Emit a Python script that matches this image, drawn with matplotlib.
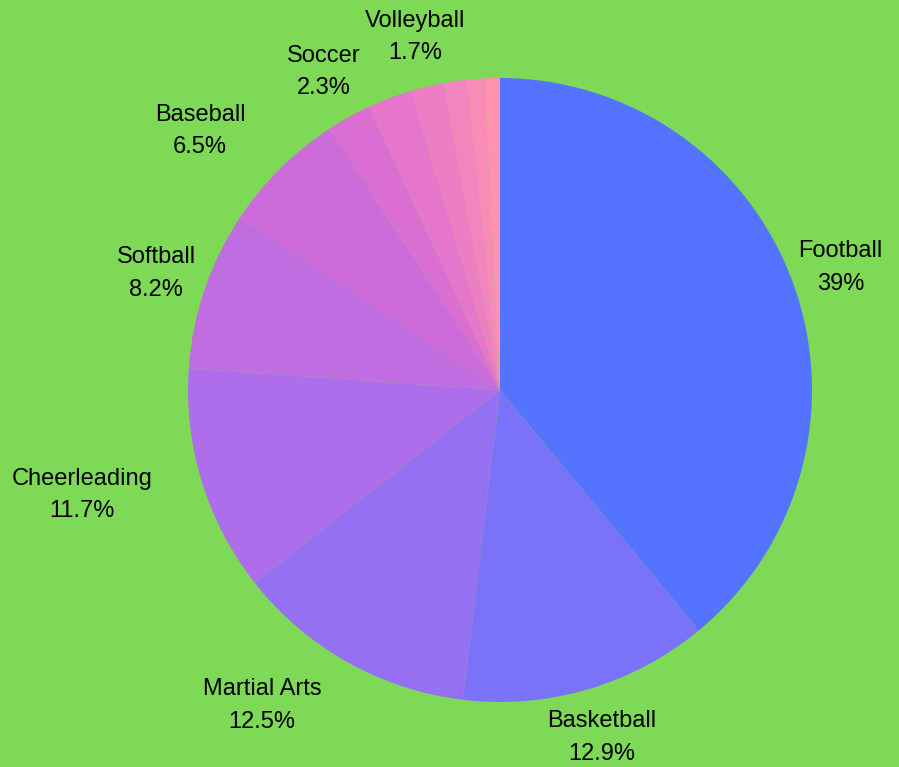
import matplotlib.pyplot as plt
import numpy as np

sports = ["Football", "Basketball", "Martial Arts", "Cheerleading", "Softball",
          "Baseball", "Soccer", "", "Volleyball", "", "", ""]
shares = [39, 12.9, 12.5, 11.7, 8.2, 6.5, 2.3, 2.3, 1.7, 1.2, 0.9, 0.8]
pct_text = ["39%", "12.9%", "12.5%", "11.7%", "8.2%", "6.5%", "2.3%", "", "1.7%", "", "", ""]
colors = ["#5474FF", "#7B72FA", "#9670F2", "#AE6EEB", "#C06DE2", "#CE6BDA",
          "#DB6ED2", "#E676CB", "#EE7EC4", "#F385BE", "#F98BB7", "#FF92AF"]

# label layout tweaks (radius factor, angle nudge in degrees)
lab_r = [1.16, 1.16, 1.266, 1.382, 1.163, 1.27, 1.165, 1.16, 1.163, 1.16, 1.16, 1.16]
lab_da = [0, 0, 7.7, 3.0, 0, -4.4, 0, 0, 0, 0, 0, 0]

bg = "#7ED957"
fig = plt.figure(figsize=(8.99, 7.67), dpi=100)
fig.set_facecolor(bg)
ax = fig.add_axes([0, 0, 1, 1])
ax.set_facecolor(bg)

wedges, _ = ax.pie(shares, colors=colors, startangle=90, counterclock=False,
                   radius=1.0, wedgeprops=dict(linewidth=0))

R = 312.0
ax.set_xlim(-500 / R, 399 / R)
ax.set_ylim(-(767 - 390) / R, 390 / R)
ax.set_aspect("auto")
ax.axis("off")

total = sum(shares)
cum = 0.0
for i, s in enumerate(shares):
    mid = (cum + s / 2) / total * 360.0
    cum += s
    if not sports[i]:
        continue
    th = np.radians(mid + lab_da[i])
    x = lab_r[i] * np.sin(th)
    y = lab_r[i] * np.cos(th)
    ax.text(x, y, sports[i] + "\n" + pct_text[i], ha="center", va="center",
            fontsize=17.0, family="Liberation Sans", color="#000000", linespacing=1.62)

fig.savefig("out.png", dpi=100, facecolor=bg)
